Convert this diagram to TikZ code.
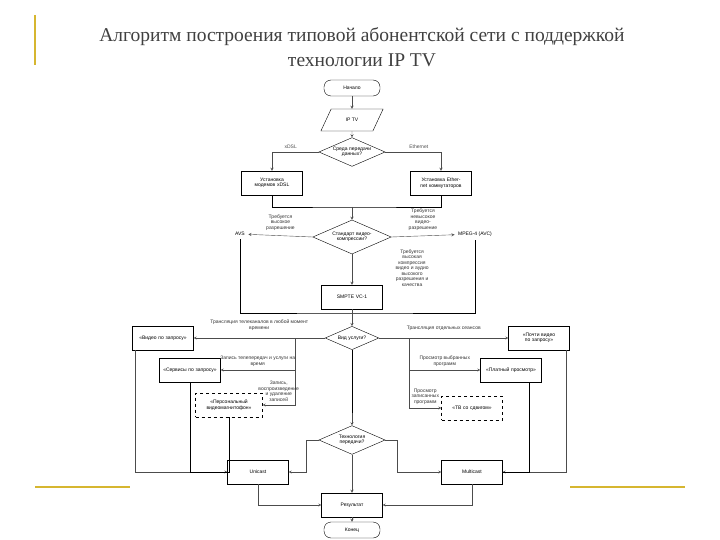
\documentclass[tikz,border=0pt]{standalone}
\usepackage{fontspec}
\setmainfont{Liberation Serif}
\newfontfamily\flowfont{Liberation Sans}
\usetikzlibrary{shapes.geometric, arrows}
\usetikzlibrary{positioning}
\definecolor{gold}{RGB}{214,182,48}
\tikzstyle{term} = [rectangle, rounded corners=7pt, draw=black, minimum width=56pt, minimum height=16pt, text centered]
\tikzstyle{io} = [trapezium, trapezium left angle=65, trapezium right angle=115, draw=black, minimum width=52pt, minimum height=22pt, text centered]
\tikzstyle{choice} = [diamond, aspect=2.3, draw=black, inner sep=0.5pt, text centered, align=center, text width=40pt]
\tikzstyle{block} = [rectangle, draw=black, minimum width=58pt, minimum height=24pt, text centered, align=center, text width=54pt]
\tikzstyle{flow} = [black!70, ->, >=stealth]
\tikzstyle{lbl} = [align=center, text=black!80]
\begin{document}
\begin{tikzpicture}[x=1pt, y=-1pt, font=\flowfont\fontsize{5}{5.5}\selectfont]
    \useasboundingbox (0,0) rectangle (720,540);

    % slide decoration
    \draw [gold, line width=1.2pt] (35,15) -- (35,65);
    \draw [gold, line width=2pt] (35,487) -- (130,487);
    \draw [gold, line width=2pt] (570,487) -- (685,487);
    \node (title) [align=center, font=\fontsize{19.5}{25}\selectfont, text=black!75] at (362,47)
        {Алгоритм построения типовой абонентской сети с поддержкой\\технологии IP TV};

    \node (start) [term] at (352,88) {Начало};
    \node (iptv) [io] at (352,120) {IP TV};
    \node (media) [choice] at (352,152) {Среда передачи данных?};
    \node (xdsl) [block] at (272,183) {Установка модемов xDSL};
    \node (eth) [block] at (441,183) {Установка Ethernet коммутаторов};
    \node (codec) [choice, text width=52pt] at (352,237) {Стандарт видео-компрессии?};
    \node (avs) at (240,234) {AVS};
    \node (mpeg) at (475,234) {MPEG-4 (AVC)};
    \node (vc1) [block] at (352,297) {SMPTE VC-1};
    \node (service) [choice] at (352,338) {Вид услуги?};
    \node (vod) [block] at (163,338) {«Видео по запросу»};
    \node (sod) [block] at (190,370) {«Сервисы по запросу»};
    \node (pvr) [block, dashed, text width=60pt] at (229,405) {«Персональный видеомагнитофон»};
    \node (nvod) [block] at (539,338) {«Почти видео по запросу»};
    \node (ppv) [block] at (511,370) {«Платный просмотр»};
    \node (tsh) [block, dashed] at (472,408) {«ТВ со сдвигом»};
    \node (cast) [choice] at (352,440) {Технология передачи?};
    \node (uni) [block] at (258,472) {Unicast};
    \node (multi) [block] at (472,472) {Multicast};
    \node (res) [block] at (352,505) {Результат};
    \node (stop) [term] at (352,530) {Конец};

    \coordinate (merge1) at (352,207);
    \coordinate (merge2) at (352,313);
    \coordinate (merge3) at (352,413);

    \draw [flow] (start) -- (iptv);
    \draw [flow] (iptv) -- (media);
    \draw [flow] (media.west) -| node [pos=0.3, above] {xDSL} (xdsl);
    \draw [flow] (media.east) -| node [pos=0.3, above] {Ethernet} (eth);
    \draw (xdsl) |- (merge1) -| (eth);
    \draw [flow] (merge1) -- (codec);
    \draw [flow] (codec.west) -- node [lbl, above=2pt] {Требуется\\высокое\\разрешение} (avs);
    \draw [flow] (codec.east) -- node [lbl, above=2pt] {Требуется\\невысокое\\видео-\\разрешение} (mpeg);
    \draw [flow] (codec) -- node [lbl, anchor=west, xshift=40pt, pos=0.45] {Требуется\\высокая\\компрессия\\видео и аудио\\высокого\\разрешения и\\качества} (vc1);
    \draw (avs) |- (merge2) -| (mpeg);
    \draw [flow] (vc1) -- (service);

    \draw [flow] (service.west) -- node [lbl, above=4pt] {Трансляция телеканалов в любой момент\\времени} (vod);
    \draw [flow] (service.west) -| ++(-30,0) |- node [lbl, pos=0.75, above] {Запись телепередач и услуги на\\время} (sod);
    \draw [flow] (service.west) -| ++(-30,0) |- node [lbl, pos=0.75, above] {Запись,\\воспроизведение\\и удаление\\записей} (pvr);
    \draw [flow] (service.east) -- node [lbl, above=4pt] {Трансляция отдельных сеансов} (nvod);
    \draw [flow] (service.east) -| ++(30,0) |- node [lbl, pos=0.75, above] {Просмотр выбранных\\программ} (ppv);
    \draw [flow] (service.east) -| ++(30,0) |- node [lbl, pos=0.75, above] {Просмотр\\записанных\\программ} (tsh);
    \draw (service) -- (merge3);
    \draw [flow] (merge3) -- (cast);

    \draw [flow] (vod.south west) ++(3,0) |- (uni.west);
    \draw (sod.south) |- (uni.west);
    \draw (pvr.south) |- (uni.west);
    \draw [flow] (nvod.south east) ++(-3,0) |- (multi.east);
    \draw (ppv.south east) ++(-12,0) |- (multi.east);
    \draw [flow] (cast.west) -| ++(-12,0) |- (uni.east);
    \draw [flow] (cast.east) -| ++(12,0) |- (multi.west);
    \draw [flow] (uni.south) |- (res.west);
    \draw [flow] (multi.south) |- (res.east);
    \draw [flow] (cast) -- (res);
    \draw [flow] (res) -- (stop);

\end{tikzpicture}
\end{document}
